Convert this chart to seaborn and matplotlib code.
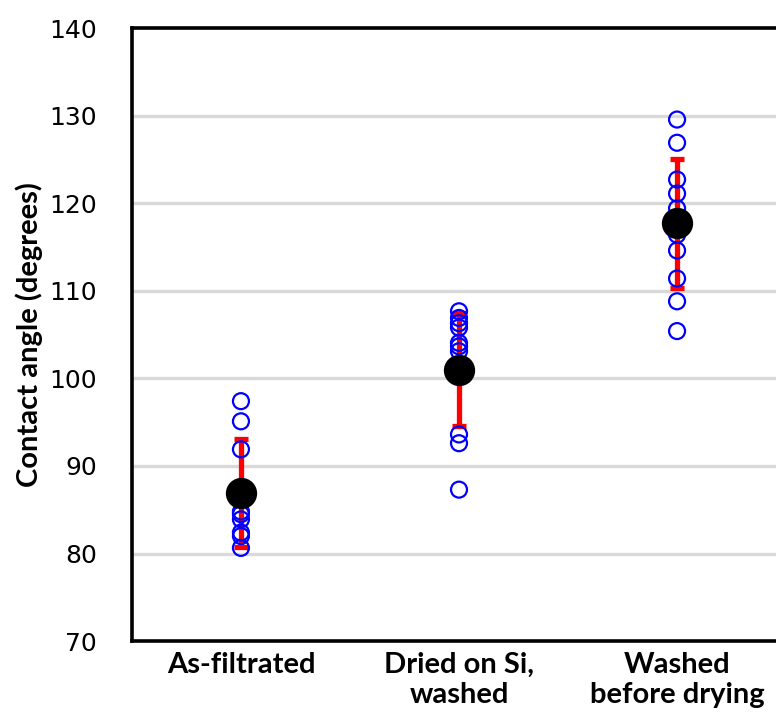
import numpy as np
import pandas as pd
import matplotlib
matplotlib.use("Agg")
import matplotlib.pyplot as plt
import seaborn as sns

categories = ["As-filtrated", "Dried on Si,\nwashed", "Washed\nbefore drying"]
as_filtrated = [97.4, 95.1, 91.9, 84.8, 84.5, 83.9, 82.4, 82.0, 80.65]
dried_on_si = [107.66, 106.9, 106.3, 105.8, 104.05, 103.66, 103.1, 101.0, 100.2, 93.6, 92.6, 87.3]
washed_before = [129.55, 126.9, 122.7, 121.1, 119.4, 118.4, 116.4, 114.6, 111.4, 108.8, 105.4]
yticks = [70, 80, 90, 100, 110, 120, 130, 140]

rows = []
for cat, vals in zip(categories, [as_filtrated, dried_on_si, washed_before]):
    for v in vals:
        rows.append((cat, v))
df = pd.DataFrame(rows, columns=["cat", "val"])

sns.set_theme(style="white")
label_font = ["Lato", "DejaVu Sans"]

fig = plt.figure(figsize=(7.76, 7.18), dpi=100)
ax = fig.add_axes([0.170, 0.107, 0.843, 0.854])

sns.pointplot(data=df, x="cat", y="val", order=categories, errorbar="sd",
              linestyle="none", color="black", markersize=20.5,
              err_kws={"color": "red", "linewidth": 3.8}, capsize=0.065, ax=ax)
sns.stripplot(data=df, x="cat", y="val", order=categories, jitter=False,
              size=11.5, linewidth=1.6, ax=ax)
for coll in ax.collections:
    coll.set_facecolor("none")
    coll.set_edgecolor("#0000ff")
    coll.set_zorder(3)
for ln in ax.lines:
    if ln.get_marker() not in (None, "None", "", " ") and ln.get_linestyle() in ("None", "none", ""):
        ln.set_zorder(5)
        ln.set_markerfacecolor("black")
        ln.set_markeredgecolor("black")
    else:
        ln.set_color("red")
        ln.set_zorder(2)
        ln.set_solid_capstyle("butt")

ax.set_xlim(-0.5, 2.5)
ax.set_ylim(70, 140)
ax.set_yticks(yticks)
ax.set_yticklabels([str(t) for t in yticks], fontsize=18, family=["DejaVu Sans"], color="black")
ax.set_xticks([0, 1, 2])
ax.set_xticklabels(categories, fontsize=21, fontweight="bold", family=label_font,
                   linespacing=1.2, color="black")
ax.set_xticks([0.5, 1.5, 2.5], minor=True)
ax.tick_params(axis="x", which="both", direction="in", length=8, width=1.5, color="black", pad=8)
ax.tick_params(axis="y", which="major", direction="out", length=4, width=2, color="#d9d9d9", pad=21)
ax.set_xlabel("")
ax.set_ylabel("Contact angle (degrees)", fontsize=21, fontweight="bold", family=label_font,
              labelpad=5, color="black")

for t in [80, 90, 100, 110, 120, 130]:
    ax.axhline(t, color="#d9d9d9", linewidth=2.4, zorder=0)

for side in ["left", "bottom", "top", "right"]:
    ax.spines[side].set_visible(True)
    ax.spines[side].set_color("black")
    ax.spines[side].set_linewidth(2.6)

fig.savefig("out.png", dpi=100)
